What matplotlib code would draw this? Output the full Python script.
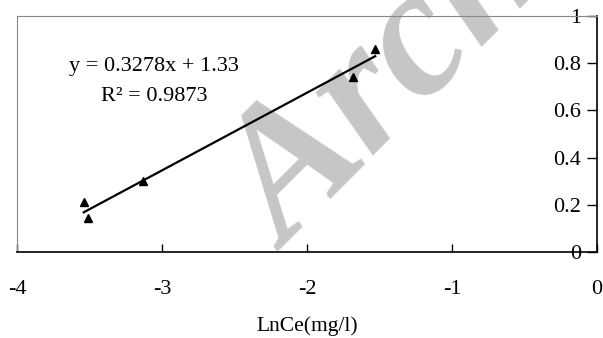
import numpy as np
import matplotlib
matplotlib.use("Agg")
import matplotlib.pyplot as plt

# Donnees
ln_ce = [-3.54, -3.51, -3.13, -1.68, -1.53]
y_vals = [0.212, 0.147, 0.302, 0.739, 0.859]
pente = 0.3278
ordonnee = 1.33
x_ticks = [-4, -3, -2, -1, 0]
y_ticks = [0, 0.2, 0.4, 0.6, 0.8, 1]
y_labels = ['0', '0.2', '0.4', '0.6', '0.8', '1']

plt.rcParams['font.family'] = ['Liberation Serif', 'DejaVu Serif']

fig = plt.figure(figsize=(6.03, 3.38), dpi=100)
ax = fig.add_axes([0.0282, 0.253, 0.962, 0.701])
ax.set_facecolor('none')

# filigrane
fig.text(0.476, 0.255, 'Archive of SID', fontsize=133, fontweight='bold',
         fontstyle='italic', color='#c6c6c6', rotation=45,
         rotation_mode='anchor', ha='left', va='baseline', zorder=-1)

# points et droite de regression
ax.plot(ln_ce, y_vals, linestyle='none', marker='^', color='black', markersize=6, zorder=3)
xs = np.array([min(ln_ce), max(ln_ce)])
ax.plot(xs, pente * xs + ordonnee, color='black', linewidth=1.6, zorder=2)

ax.set_xlim(-4, 0)
ax.set_ylim(0, 1)

# axe y a droite (x = 0), bordure grise a gauche et en haut
ax.spines['left'].set_position(('data', 0))
ax.spines['left'].set_color('black')
ax.spines['right'].set_position(('data', -4))
ax.spines['right'].set_color('#888888')
ax.spines['top'].set_color('#888888')
ax.spines['bottom'].set_color('black')
for s in ['left', 'bottom']:
    ax.spines[s].set_linewidth(1.2)

ax.set_xticks(x_ticks)
ax.set_xticklabels([str(v) for v in x_ticks])
ax.set_yticks(y_ticks)
ax.set_yticklabels(y_labels)
ax.tick_params(axis='x', direction='in', length=6, width=1, pad=20, labelsize=16)
ax.tick_params(axis='y', direction='out', length=7, width=1, pad=4.5, labelsize=16)
ax.yaxis.set_ticks_position('left')
ax.xaxis.set_ticks_position('bottom')

ax.set_xlabel('LnCe(mg/l)', fontsize=15.5, labelpad=12.5)

ax.text(-3.056, 0.785, 'y = 0.3278x + 1.33', fontsize=16, ha='center', va='center')
ax.text(-3.056, 0.658, 'R² = 0.9873', fontsize=16, ha='center', va='center')

fig.savefig('out.png', dpi=100)
